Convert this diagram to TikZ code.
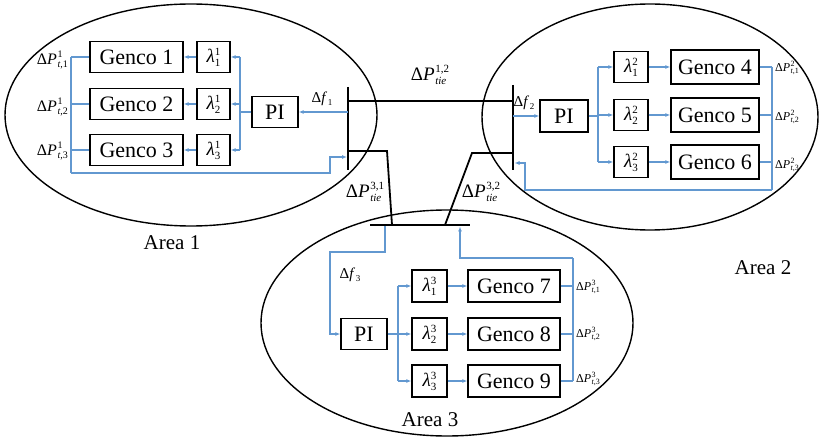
\documentclass[tikz,border=0pt]{standalone}
\usepackage{fontspec}
\setmainfont{Liberation Serif}
\usetikzlibrary{arrows.meta,shapes.geometric}
\definecolor{sigc}{RGB}{98,152,208}

% stacked super/subscript in text mode: size, sup, sub, raise, lower
\newcommand\ssc[5]{{\fontsize{#1}{#1}\selectfont
  \setbox0\hbox{\raisebox{#4}{#2}}\setbox2\hbox{\raisebox{-#5}{#3}}%
  \ifdim\wd0>\wd2 \rlap{\box2}\box0 \else\rlap{\box0}\box2\fi}}
\newcommand\dPa[2]{{\fontsize{16}{16}\selectfont Δ\textit{P}\kern0.5pt\ssc{10}{#1}{\textit{t},#2}{6.5pt}{3pt}}}
\newcommand\dPb[2]{{\fontsize{12}{12}\selectfont Δ\textit{P}\kern0.3pt\ssc{8}{#1}{\textit{t},#2}{5pt}{2.3pt}}}
\newcommand\dPtie[1]{{\fontsize{19}{19}\selectfont Δ\textit{P}\kern0.5pt\ssc{11}{#1}{\textit{tie}}{8pt}{4pt}}}
\newcommand\dfr[1]{{\fontsize{15}{15}\selectfont Δ\textit{f}\kern0.5pt\ssc{9}{}{#1}{0pt}{2.5pt}}}
\newcommand\lam[2]{{\fontsize{19}{19}\selectfont\textit{λ}\ssc{11}{#1}{#2}{7.5pt}{3.5pt}}}

\begin{document}
\begin{tikzpicture}[x=1pt,y=-1pt,
  box/.style={draw=black,line width=1.3pt,inner sep=0pt,fill=white},
  gen/.style={box,font=\fontsize{22}{22}\selectfont},
  lbox/.style={box},
  sig/.style={draw=sigc,line width=1.1pt},
  arr/.style={sig,-{Latex[length=5pt,width=4pt]}},
  bus/.style={line width=2.4pt},
  tie/.style={line width=1.8pt},
  area/.style={ellipse,draw,line width=1.4pt,inner sep=0pt},
  lbl/.style={inner sep=0pt},
  atext/.style={inner sep=0pt,font=\fontsize{21}{21}\selectfont}]

\useasboundingbox (0,0) rectangle (819,438);

% ---- the three control areas
\node[area,minimum width=372pt,minimum height=222pt] (A1) at (191,115) {};
\node[area,minimum width=336pt,minimum height=226pt] (A2) at (650,117) {};
\node[area,minimum width=372pt,minimum height=226pt] (A3) at (447,323) {};
\node[atext] (A1t) at (172,243) {Area 1};
\node[atext] (A2t) at (763,268) {Area 2};
\node[atext] (A3t) at (430,420) {Area 3};

% ---- buses and tie lines
\coordinate (B1t) at (348,87);  \coordinate (B1b) at (348,170);
\coordinate (B2t) at (513,85);  \coordinate (B2b) at (513,170);
\coordinate (B3l) at (370,225); \coordinate (B3r) at (470,225);
\draw[bus] (B1t) -- (B1b);
\draw[bus] (B2t) -- (B2b);
\draw[bus] (B3l) -- (B3r);
\coordinate (T12a) at (348,101); \coordinate (T12b) at (513,101);
\coordinate (T31a) at (348,151); \coordinate (T31k) at (387,151); \coordinate (T31b) at (392,225);
\coordinate (T32a) at (513,153); \coordinate (T32k) at (472,153); \coordinate (T32b) at (445,225);
\draw[tie] (T12a) -- (T12b);
\draw[tie] (T31a) -- (T31k) -- (T31b);
\draw[tie] (T32a) -- (T32k) -- (T32b);
\node[lbl] (P12) at (430,75) {\dPtie{1,2}};
\node[lbl] (P31) at (365,192) {\dPtie{3,1}};
\node[lbl] (P32) at (481,192) {\dPtie{3,2}};

% ---- Area 1
\node[gen,minimum width=93pt,minimum height=31pt] (G11) at (136.5,57) {Genco 1};
\node[gen,minimum width=93pt,minimum height=31pt] (G12) at (136.5,104) {Genco 2};
\node[gen,minimum width=93pt,minimum height=31pt] (G13) at (136.5,150) {Genco 3};
\node[lbox,minimum width=33pt,minimum height=31pt] (L11) at (213.5,57) {\lam{1}{1}};
\node[lbox,minimum width=33pt,minimum height=31pt] (L12) at (213.5,104) {\lam{1}{2}};
\node[lbox,minimum width=33pt,minimum height=31pt] (L13) at (213.5,150) {\lam{1}{3}};
\node[gen,minimum width=46pt,minimum height=31pt] (PI1) at (275,112) {PI};
\coordinate (D1) at (348,112);
\coordinate (F1) at (240,112);
\coordinate (O1) at (71,173);
\coordinate (R1a) at (330,173); \coordinate (R1b) at (330,157); \coordinate (R1c) at (347,157);
\draw[arr] (D1) -- (PI1.east);
\node[lbl] (df1) at (322,99) {\dfr{1}};
\draw[sig] (PI1.west) -- (F1);
\draw[sig] (F1 |- L11) -- (F1 |- L13);
\foreach \k in {1,2,3}{
  \draw[arr] (F1 |- L1\k) -- (L1\k.east);
  \draw[arr] (L1\k.west) -- (G1\k.east);
  \draw[sig] (G1\k.west) -- (G1\k.west -| O1);
}
\draw[sig] (O1 |- G11) -- (O1);
\draw[arr] (O1) -- (R1a) -- (R1b) -- (R1c);
\node[lbl,anchor=east] (q11) at (68,60) {\dPa{1}{1}};
\node[lbl,anchor=east] (q12) at (68,107) {\dPa{1}{2}};
\node[lbl,anchor=east] (q13) at (68,151) {\dPa{1}{3}};

% ---- Area 2
\node[gen,minimum width=48pt,minimum height=32pt] (PI2) at (564,116) {PI};
\node[lbox,minimum width=34pt,minimum height=31pt] (L21) at (631,67) {\lam{2}{1}};
\node[lbox,minimum width=34pt,minimum height=31pt] (L22) at (631,115) {\lam{2}{2}};
\node[lbox,minimum width=34pt,minimum height=31pt] (L23) at (631,162) {\lam{2}{3}};
\node[gen,minimum width=88pt,minimum height=34pt] (G21) at (715,67) {Genco 4};
\node[gen,minimum width=88pt,minimum height=34pt] (G22) at (715,115) {Genco 5};
\node[gen,minimum width=88pt,minimum height=34pt] (G23) at (715,162) {Genco 6};
\coordinate (D2) at (513,116);
\coordinate (F2) at (598,116);
\coordinate (O2) at (772,190);
\coordinate (R2a) at (525,190); \coordinate (R2b) at (525,163); \coordinate (R2c) at (514.5,163);
\draw[arr] (D2) -- (PI2.west);
\node[lbl] (df2) at (524,103) {\dfr{2}};
\draw[sig] (PI2.east) -- (F2);
\draw[sig] (F2 |- L21) -- (F2 |- L23);
\foreach \k in {1,2,3}{
  \draw[arr] (F2 |- L2\k) -- (L2\k.west);
  \draw[arr] (L2\k.east) -- (G2\k.west);
  \draw[sig] (G2\k.east) -- (G2\k.east -| O2);
}
\draw[sig] (O2 |- G21) -- (O2);
\draw[arr] (O2) -- (R2a) -- (R2b) -- (R2c);
\node[lbl,anchor=west] (q21) at (775,68) {\dPb{2}{1}};
\node[lbl,anchor=west] (q22) at (775,117) {\dPb{2}{2}};
\node[lbl,anchor=west] (q23) at (775,165) {\dPb{2}{3}};

% ---- Area 3
\node[gen,minimum width=46pt,minimum height=31pt] (PI3) at (364,334) {PI};
\node[lbox,minimum width=35pt,minimum height=32pt] (L31) at (429.5,286) {\lam{3}{1}};
\node[lbox,minimum width=35pt,minimum height=32pt] (L32) at (429.5,334) {\lam{3}{2}};
\node[lbox,minimum width=35pt,minimum height=32pt] (L33) at (429.5,381) {\lam{3}{3}};
\node[gen,minimum width=92pt,minimum height=32pt] (G31) at (514,286) {Genco 7};
\node[gen,minimum width=92pt,minimum height=32pt] (G32) at (514,334) {Genco 8};
\node[gen,minimum width=92pt,minimum height=32pt] (G33) at (514,381) {Genco 9};
\coordinate (D3) at (385,226);
\coordinate (D3a) at (385,252); \coordinate (D3b) at (330,252); \coordinate (D3c) at (330,334);
\coordinate (F3) at (398,334);
\coordinate (O3) at (573,258);
\coordinate (R3a) at (460,258); \coordinate (R3b) at (460,226.5);
\draw[arr] (D3) -- (D3a) -- (D3b) -- (D3c) -- (PI3.west);
\node[lbl] (df3) at (350,275) {\dfr{3}};
\draw[sig] (PI3.east) -- (F3);
\draw[sig] (F3 |- L31) -- (F3 |- L33);
\foreach \k in {1,2,3}{
  \draw[arr] (F3 |- L3\k) -- (L3\k.west);
  \draw[arr] (L3\k.east) -- (G3\k.west);
  \draw[sig] (G3\k.east) -- (G3\k.east -| O3);
}
\draw[sig] (O3 |- G33) -- (O3);
\draw[arr] (O3) -- (R3a) -- (R3b);
\node[lbl,anchor=west] (q31) at (576,287) {\dPb{3}{1}};
\node[lbl,anchor=west] (q32) at (576,334) {\dPb{3}{2}};
\node[lbl,anchor=west] (q33) at (576,379) {\dPb{3}{3}};
\end{tikzpicture}
\end{document}
